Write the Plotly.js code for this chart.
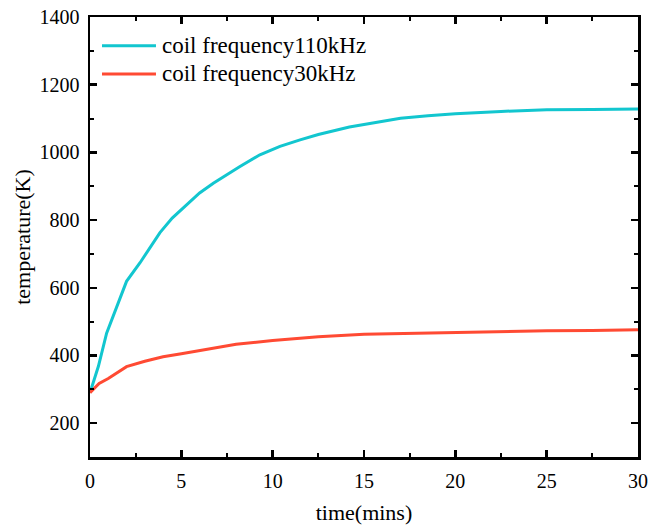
<!DOCTYPE html>
<html>
<head>
<meta charset="utf-8">
<script src="https://cdn.plot.ly/plotly-3.0.1.min.js"></script>
<style>html,body{margin:0;padding:0;background:#fff;}#chart{width:665px;height:527px;}</style>
</head>
<body>
<div id="chart"></div>
<script>
// Data
const seriesNames = ["coil frequency110kHz", "coil frequency30kHz"];
const seriesColors = ["#12C6CF", "#FF4A33"];
const timeHigh = [0, 0.46, 0.91, 1.46, 2.0, 2.74, 3.3, 3.83, 4.5, 5.29, 6.0, 6.75, 7.5, 8.21, 9.3, 10.4, 11.5, 12.5, 14.2, 15.5, 17.0, 18.5, 20.0, 22.5, 25.0, 27.5, 30.0];
const tempHigh = [290, 368, 466, 545, 619, 674, 720, 763, 806, 844, 880, 909, 935, 958, 993, 1018, 1037, 1053, 1075, 1088, 1101, 1108, 1114, 1121, 1126, 1127, 1128];
const timeLow = [0, 0.5, 1, 2, 3, 4, 5, 6, 7, 8, 10, 12.5, 15, 17.5, 20, 22.5, 25, 27.5, 30];
const tempLow = [290, 317, 332, 367, 383, 396, 405, 414, 423, 433, 444, 455, 463, 466, 469, 471, 473, 474, 476];
const xTitle = "time(mins)";
const yTitle = "temperature(K)";

const FONT = "Liberation Serif, Times New Roman, serif";

const traces = [
  {x: timeHigh, y: tempHigh, name: seriesNames[0], type: "scatter", mode: "lines",
   line: {color: seriesColors[0], width: 3}},
  {x: timeLow, y: tempLow, name: seriesNames[1], type: "scatter", mode: "lines",
   line: {color: seriesColors[1], width: 3}}
];

// Legend drawn as paper-positioned samples + labels (to match the long sample lines)
const legendX0 = 0.0219, legendX1 = 0.1204, legendTextX = 0.1296;
const legendRows = [0.9348, 0.8705];
const shapes = seriesNames.map((n, i) => ({
  type: "line", xref: "paper", yref: "paper",
  x0: legendX0, x1: legendX1, y0: legendRows[i], y1: legendRows[i],
  line: {color: seriesColors[i], width: 3}
}));
const annotations = seriesNames.map((n, i) => ({
  text: n, xref: "paper", yref: "paper", x: legendTextX, y: legendRows[i],
  xanchor: "left", yanchor: "middle", showarrow: false, borderpad: 0,
  font: {family: FONT, size: 23, color: "#000"}
}));

const axisCommon = {
  showline: true, linecolor: "#000", linewidth: 2.5, mirror: "allticks",
  ticks: "inside", ticklen: 7, tickwidth: 2.5, tickcolor: "#000",
  showgrid: false, zeroline: false,
  tickfont: {family: FONT, size: 20, color: "#000"}
};

const layout = {
  width: 665, height: 527,
  margin: {l: 90, r: 27, t: 17, b: 70},
  paper_bgcolor: "#fff", plot_bgcolor: "#fff",
  font: {family: FONT, color: "#000"},
  showlegend: false,
  shapes: shapes,
  annotations: annotations,
  xaxis: Object.assign({}, axisCommon, {
    range: [0, 30], tickmode: "linear", tick0: 0, dtick: 5,
    minor: {ticks: "inside", dtick: 2.5, ticklen: 4, tickwidth: 2, tickcolor: "#000", showgrid: false},
    ticklabelstandoff: 4,
    title: {text: xTitle, font: {family: FONT, size: 22, color: "#000"}, standoff: 14}
  }),
  yaxis: Object.assign({}, axisCommon, {
    range: [100, 1400], tickmode: "linear", tick0: 200, dtick: 200,
    minor: {ticks: "inside", dtick: 100, ticklen: 4, tickwidth: 2, tickcolor: "#000", showgrid: false},
    ticklabelstandoff: 4,
    title: {text: yTitle, font: {family: FONT, size: 22, color: "#000"}, standoff: 3}
  })
};

Plotly.newPlot("chart", traces, layout, {displayModeBar: false, staticPlot: true});
</script>
</body>
</html>
